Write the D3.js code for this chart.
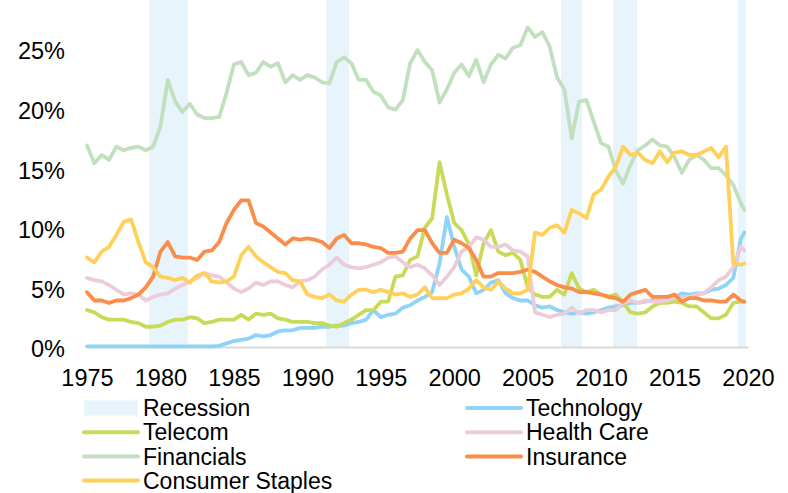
<!DOCTYPE html>
<html>
<head>
<meta charset="utf-8">
<script src="https://cdn.jsdelivr.net/npm/d3@7"></script>
<style>
body { margin: 0; background: #fff; }
text { font-family: "Liberation Sans", Arial, sans-serif; fill: #000; }
</style>
</head>
<body>
<script>
// sector weights (% of index), half-year steps from 1975 to 2019.5, last point 2019.75
var years = d3.range(1975, 2020, 0.5).concat([2019.75]);

var technology = [0.05,0.05,0.05,0.05,0.05,0.05,0.05,0.05,0.05,0.05,
  0.05,0.05,0.05,0.05,0.05,0.05,0.05,0.05,0.1,0.3,
  0.5,0.6,0.7,1.0,0.9,1.0,1.3,1.4,1.4,1.6,
  1.6,1.6,1.7,1.7,1.8,1.8,2.0,2.1,2.3,3.1,
  2.5,2.7,2.8,3.3,3.5,3.9,4.2,4.6,7.0,10.9,
  8.4,6.5,5.9,4.5,4.8,5.4,5.6,4.5,4.1,3.9,
  3.9,3.5,3.3,3.4,3.1,2.9,2.8,2.9,2.8,2.9,
  3.1,3.3,3.4,3.5,3.7,3.7,3.8,3.9,3.9,4.1,
  4.2,4.5,4.4,4.5,4.5,4.8,4.9,5.2,5.8,9.0,9.6];

var telecom = [3.1,2.9,2.5,2.3,2.3,2.3,2.1,2.0,1.7,1.7,
  1.8,2.1,2.3,2.3,2.5,2.4,2.0,2.1,2.3,2.3,
  2.3,2.7,2.3,2.8,2.7,2.8,2.4,2.3,2.1,2.1,
  2.1,2.0,2.0,1.8,1.7,2.0,2.3,2.7,3.1,3.1,
  3.8,3.8,5.9,6.0,7.3,7.6,10.0,10.8,15.5,12.8,
  10.4,9.8,8.6,6.0,8.7,9.8,8.0,7.7,7.9,7.3,
  5.0,4.4,4.2,4.2,4.8,4.4,6.2,4.9,4.6,4.8,
  4.4,4.2,4.4,3.7,2.9,2.8,2.9,3.4,3.7,3.7,
  3.8,3.7,3.4,3.4,2.9,2.4,2.4,2.7,3.7,3.8,3.8];

var healthCare = [5.8,5.6,5.5,5.2,4.8,4.4,4.5,4.4,3.9,4.2,
  4.4,4.5,4.9,5.2,5.5,5.8,6.2,6.0,5.9,5.4,
  4.9,4.6,4.9,5.4,5.2,5.5,5.5,5.2,5.0,5.5,
  5.6,5.9,6.5,6.9,7.5,6.9,6.7,6.6,6.7,6.9,
  7.1,7.5,7.6,7.1,6.7,6.9,6.6,6.0,5.2,5.9,
  6.7,8.0,8.4,9.2,9.0,8.4,8.4,8.6,8.1,8.0,
  7.6,2.9,2.7,2.5,2.7,2.8,3.3,2.8,3.1,3.1,
  2.9,3.1,3.1,3.7,3.9,3.7,3.9,3.8,3.8,3.9,
  4.1,4.2,4.2,4.4,4.5,5.0,5.6,5.9,6.7,8.4,8.1];

var financials = [16.9,15.4,16.1,15.7,16.8,16.5,16.7,16.8,16.5,16.8,
  18.5,22.4,20.6,19.7,20.4,19.5,19.2,19.2,19.3,21.3,
  23.7,23.9,22.8,23.0,23.9,23.5,23.8,22.2,22.8,22.4,
  22.8,22.6,22.2,22.1,23.9,24.3,23.8,22.4,22.4,21.4,
  21.1,20.1,19.9,20.7,23.8,24.9,23.9,23.2,20.5,21.6,
  23.0,23.7,22.7,24.1,22.2,23.7,24.5,24.2,25.1,25.3,
  26.8,26.0,26.4,25.2,22.6,21.6,17.5,20.6,20.7,18.9,
  17.1,16.8,14.8,13.7,15.3,16.5,16.9,17.4,16.9,16.8,
  15.9,14.6,15.7,16.1,15.7,15.0,15.0,14.4,13.6,12.1,11.5];

var insurance = [4.6,3.9,3.9,3.7,3.9,3.9,4.1,4.4,5.0,5.9,
  8.0,8.8,7.6,7.5,7.5,7.3,8.0,8.1,8.8,10.4,
  11.5,12.3,12.3,10.4,10.1,9.6,9.1,8.6,9.1,9.0,
  9.1,9.0,8.8,8.3,9.1,9.4,8.7,8.7,8.6,8.4,
  8.3,7.9,7.9,8.0,9.1,9.8,9.8,8.7,7.9,7.9,
  9.0,8.7,8.3,7.3,5.9,5.9,6.2,6.2,6.2,6.3,
  6.5,6.3,5.9,5.5,5.2,5.0,4.9,4.6,4.6,4.5,
  4.4,4.2,4.1,3.8,4.4,4.6,4.8,4.2,4.2,4.2,
  4.4,3.8,4.1,4.1,3.9,3.9,3.8,3.8,4.4,3.9,3.8];

var consumerStaples = [7.5,7.1,8.0,8.4,9.4,10.5,10.7,8.8,7.1,6.7,
  5.9,5.8,5.6,5.8,5.4,6.0,6.2,5.5,5.4,5.5,
  5.9,7.7,8.4,7.6,7.1,6.7,6.3,6.2,5.6,5.5,
  4.4,4.2,4.1,4.4,3.9,3.8,4.4,4.8,4.8,4.6,
  4.8,4.6,4.4,4.5,4.2,4.4,5.0,4.1,4.1,4.1,
  4.4,4.5,4.9,5.6,5.0,4.8,5.5,4.9,4.5,4.5,
  4.8,9.6,9.4,10.0,10.2,9.6,11.5,11.2,10.8,12.8,
  13.2,14.3,15.1,16.8,16.1,16.3,15.7,15.4,16.4,15.5,
  16.3,16.4,16.1,16.1,16.4,16.7,15.9,16.8,7.0,6.9,7.0];

// recession periods (decimal years)
var recessionStart = [1979.22, 1991.27, 2007.27, 2010.81, 2019.31];
var recessionEnd = [1981.88, 1992.84, 2008.70, 2012.44, 2019.85];

var xTicks = [1975, 1980, 1985, 1990, 1995, 2000, 2005, 2010, 2015, 2020];
var yTicks = [0, 5, 10, 15, 20, 25];

var seriesNames = ["Technology", "Telecom", "Health Care", "Financials", "Insurance", "Consumer Staples"];
var seriesValues = [technology, telecom, healthCare, financials, insurance, consumerStaples];
var seriesColors = ["#8fd4f6", "#c9da58", "#ecccd8", "#c2dfbf", "#fb8d4b", "#ffd05a"];
var recessionColor = "#e7f4fc";

var width = 788, height = 493;

var svg = d3.select("body").append("svg")
  .attr("width", width)
  .attr("height", height);

// set the ranges
var x = d3.scaleLinear().domain([1975, 2020]).range([87, 748]);
var y = d3.scaleLinear().domain([0, 29.1]).range([347, 0]);

// recession bands
svg.selectAll("rect.rec").data(recessionStart)
  .enter()
  .append("rect")
  .attr("class", "rec")
  .attr("x", function(d) { return x(d); })
  .attr("width", function(d, i) { return x(recessionEnd[i]) - x(d); })
  .attr("y", y(29.1))
  .attr("height", y(0) - y(29.1))
  .attr("fill", recessionColor);

// x axis
var xAxis = svg.append("g")
  .attr("transform", "translate(0," + y(0) + ")")
  .call(d3.axisBottom(x).tickValues(xTicks).tickFormat(d3.format("d"))
    .tickSize(0).tickSizeOuter(0).tickPadding(22));
xAxis.select(".domain").attr("stroke", "#d9d9d9").attr("stroke-width", 2);
xAxis.selectAll("text").style("font-size", "23.5px")
  .style("font-family", "'Liberation Sans', Arial, sans-serif");

// y axis
var yAxis = svg.append("g")
  .attr("transform", "translate(87,0)")
  .call(d3.axisLeft(y).tickValues(yTicks).tickFormat(function(d) { return d + "%"; })
    .tickSize(0).tickPadding(22));
yAxis.select(".domain").remove();
yAxis.selectAll("text").attr("dy", "0.42em").style("font-size", "23.5px")
  .style("font-family", "'Liberation Sans', Arial, sans-serif");

// define the line
var valueline = d3.line()
  .x(function(d, i) { return x(years[i]); })
  .y(function(d) { return y(d); });

svg.selectAll("path.series").data(seriesValues)
  .enter()
  .append("path")
  .attr("class", "series")
  .attr("d", valueline)
  .attr("fill", "none")
  .attr("stroke", function(d, i) { return seriesColors[i]; })
  .attr("stroke-width", 3.8)
  .attr("stroke-linejoin", "round")
  .attr("stroke-linecap", "round");

// legend: two columns
var legendItems = [{name: "Recession", color: recessionColor, band: true}];
seriesNames.forEach(function(n, i) {
  legendItems.push({name: n, color: seriesColors[i], band: false});
});

var legend = svg.selectAll("g.leg").data(legendItems)
  .enter()
  .append("g")
  .attr("class", "leg")
  .attr("transform", function(d, i) {
    var col = i % 2, row = Math.floor(i / 2);
    return "translate(" + (col ? 467 : 84) + "," + (408 + row * 24.2) + ")";
  });

legend.filter(function(d) { return d.band; })
  .append("rect")
  .attr("x", 0).attr("y", -7.5)
  .attr("width", 54).attr("height", 15)
  .attr("fill", function(d) { return d.color; });

legend.filter(function(d) { return !d.band; })
  .append("line")
  .attr("x1", 0).attr("x2", 54)
  .attr("y1", 0).attr("y2", 0)
  .attr("stroke", function(d) { return d.color; })
  .attr("stroke-width", 4)
  .attr("stroke-linecap", "round");

legend.append("text")
  .attr("x", 59)
  .attr("dy", "0.36em")
  .style("font-size", "23px")
  .text(function(d) { return d.name; });
</script>
</body>
</html>
